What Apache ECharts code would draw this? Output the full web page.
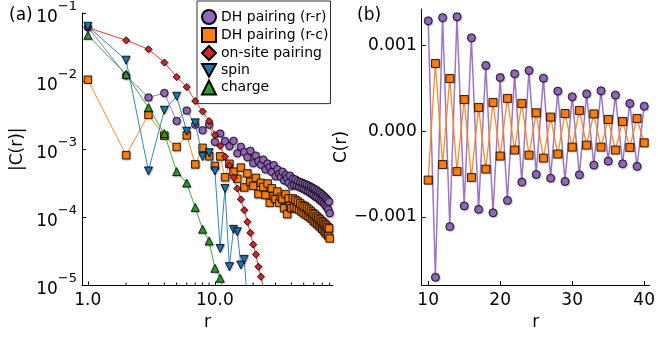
<!DOCTYPE html>
<html>
<head>
<meta charset="utf-8">
<script src="https://cdn.jsdelivr.net/npm/echarts@6/dist/echarts.min.js"></script>
<style>
  html, body { margin: 0; padding: 0; background: #fff; }
  #main { width: 658px; height: 337px; }
</style>
</head>
<body>
<div id="main"></div>
<script>
// r = 1..80 for the log-log panel, r = 10..40 for panel (b)
const rAll = Array.from({ length: 80 }, (_, i) => i + 1);
const rZoom = Array.from({ length: 31 }, (_, i) => i + 10);

// DH pairing (r-r): |C| for r=1..9, signed C for r=10..40, |C| for r=41..80
const rrHead = [0.062, 0.0121, 0.00575, 0.0067, 0.0026, 0.0037, 0.0023, 0.0019, 0.0023];
const rrSigned = [0.001283, -0.0017, 0.00132, -0.00111, 0.00133, -0.00087, 0.001085, -0.00091, 0.000764, -0.00095,
  0.000624, -0.000806, 0.000667, -0.000593, 0.000705, -0.000504, 0.000616, -0.000547, 0.000465, -0.000585,
  0.0004, -0.000508, 0.000434, -0.000395, 0.000469, -0.000349, 0.000419, -0.00038, 0.000322, -0.00041, 0.00029];
const rrTail = [3.7e-4, 3.0e-4, 3.6e-4, 2.9e-4, 3.4e-4, 2.8e-4, 3.3e-4, 2.7e-4, 3.2e-4, 2.6e-4,
  3.1e-4, 2.5e-4, 3.0e-4, 2.4e-4, 2.9e-4, 2.3e-4, 2.8e-4, 2.2e-4, 2.7e-4, 2.1e-4,
  2.6e-4, 2.0e-4, 2.5e-4, 1.95e-4, 2.4e-4, 1.85e-4, 2.3e-4, 1.75e-4, 2.2e-4, 1.7e-4,
  2.1e-4, 1.6e-4, 2.0e-4, 1.5e-4, 1.9e-4, 1.4e-4, 1.8e-4, 1.3e-4, 1.7e-4, 1.15e-4];

// DH pairing (r-c)
const rcHead = [0.0105, 0.00082, 0.0032, 0.00158, 0.00108, 0.0016, 0.0006, 0.00105, 0.00079];
const rcSigned = [-0.00057, 0.000787, -0.000388, 0.000612, -0.000469, 0.000368, -0.000539, 0.000275, -0.000442, 0.000333,
  -0.00029, 0.00038, -0.00022, 0.000322, -0.000279, 0.000213, -0.000314, 0.000163, -0.000267, 0.000205,
  -0.000186, 0.00024, -0.000163, 0.0002, -0.000186, 0.000136, -0.00022, 0.000112, -0.00019, 0.000147, -0.000136];
const rcTail = [1.9e-4, 1.4e-4, 1.8e-4, 1.35e-4, 1.7e-4, 1.3e-4, 1.6e-4, 1.22e-4, 1.5e-4, 1.15e-4,
  1.45e-4, 1.1e-4, 1.38e-4, 1.05e-4, 1.3e-4, 1.0e-4, 1.22e-4, 0.95e-4, 1.15e-4, 0.88e-4,
  1.1e-4, 0.84e-4, 1.03e-4, 0.8e-4, 0.98e-4, 0.76e-4, 0.93e-4, 0.72e-4, 0.88e-4, 0.68e-4,
  0.84e-4, 0.64e-4, 0.8e-4, 0.6e-4, 0.76e-4, 0.57e-4, 0.72e-4, 0.54e-4, 0.69e-4, 0.49e-4];

// on-site pairing, spin, charge (r starting at 1)
const onsite = [0.061, 0.0398, 0.0294, 0.0188, 0.0115, 0.0082, 0.0051, 0.0036, 0.0026, 0.00163,
  0.00112, 0.00078, 0.000585, 0.000386, 0.000266, 0.000184, 0.000128, 0.000086, 0.0000595, 0.00004,
  0.0000286, 0.0000189, 0.0000135, 0.0000096];
const spin = [0.0638, 0.0203, 0.00048, 0.00374, 0.006, 0.00184, 0.00244, 0.00078, 0.00089, 0.00048,
  0.000035, 0.000266, 0.0000189, 0.0000667, 0.0000615, 0.00002, 0.0000242, 0.000006];
const charge = [0.0471, 0.0126, 0.0041, 0.0017, 0.00047, 0.00032, 0.00014, 0.000067, 0.000045, 0.0000179,
  0.0000128, 0.0000072];

const minorTicks = [2, 3, 4, 5, 6, 7, 8, 9, 20, 30, 40, 50, 60, 70, 80];

const names = ["DH pairing (r-r)", "DH pairing (r-c)", "on-site pairing", "spin", "charge"];
const colors = ["#9467bd", "#ff7f0e", "#d62728", "#1f77b4", "#2ca02c"];
const downTri = "path://M0,0L10,0L5,9Z";

const rrAbs = [...rrHead, ...rrSigned.map(Math.abs), ...rrTail];
const rcAbs = [...rcHead, ...rcSigned.map(Math.abs), ...rcTail];

const FONT = "DejaVu Sans";
const pairs = (xs, ys) => ys.map((y, i) => [xs[i], y]);

const mkLine = (idx, data, symbol, size, grid, lw) => ({
  name: names[idx],
  type: "line",
  xAxisIndex: grid,
  yAxisIndex: grid,
  data: data,
  symbol: symbol,
  symbolSize: size,
  showAllSymbol: true,
  itemStyle: {
    color: colors[idx], borderColor: "#000", borderWidth: 0.8,
    shadowColor: "rgba(0,0,0,0.3)", shadowBlur: 1.5, shadowOffsetX: 0.8, shadowOffsetY: 0.8,
  },
  lineStyle: { color: colors[idx], width: lw, opacity: 0.9 },
  emphasis: { disabled: true },
  z: 2 + idx,
});

const axisCommon = {
  axisLine: { show: true, onZero: false, lineStyle: { color: "#000", width: 1 } },
  axisTick: { show: true, inside: true, length: 4, lineStyle: { color: "#000" } },
  splitLine: { show: false },
  axisLabel: { color: "#000", fontFamily: FONT, fontSize: 17, showMinLabel: false, showMaxLabel: false },
  nameTextStyle: { color: "#000", fontFamily: FONT, fontSize: 17 },
};

const myChart = echarts.init(document.getElementById("main"));

const option = {
  animation: false,
  backgroundColor: "#fff",
  title: [
    { text: "(a)", left: 4, top: 2, textStyle: { fontFamily: FONT, fontSize: 17, fontWeight: "normal", color: "#000" } },
    { text: "(b)", left: 352, top: 2, textStyle: { fontFamily: FONT, fontSize: 17, fontWeight: "normal", color: "#000" } },
  ],
  legend: {
    left: 197,
    top: 1,
    orient: "vertical",
    padding: [8, 2, 8, 4],
    itemWidth: 14,
    itemHeight: 14,
    itemGap: 2,
    borderColor: "#333",
    borderWidth: 1,
    backgroundColor: "#fff",
    textStyle: { fontFamily: FONT, fontSize: 14, color: "#000" },
    selectedMode: false,
    data: [
      { name: names[0], icon: "circle" },
      { name: names[1], icon: "rect" },
      { name: names[2], icon: "diamond" },
      { name: names[3], icon: downTri },
      { name: names[4], icon: "triangle" },
    ],
  },
  grid: [
    { left: 82, top: 12.7, width: 251, height: 272.8 },
    { left: 421.7, top: 9, width: 233.3, height: 276 },
  ],
  xAxis: [
    {
      ...axisCommon,
      gridIndex: 0,
      type: "log",
      logBase: 10,
      min: 0.9,
      max: 85,
      name: "r",
      nameLocation: "middle",
      nameGap: 24,
      axisLabel: { ...axisCommon.axisLabel, margin: 7, formatter: (v) => v.toFixed(1) },
    },
    {
      ...axisCommon,
      gridIndex: 1,
      type: "value",
      min: 9.1,
      max: 40.75,
      splitNumber: 3,
      name: "r",
      nameLocation: "middle",
      nameGap: 24,
      axisLabel: { ...axisCommon.axisLabel, margin: 7 },
    },
  ],
  yAxis: [
    {
      ...axisCommon,
      gridIndex: 0,
      type: "log",
      logBase: 10,
      min: 1e-5,
      max: 1e-1,
      name: "|C(r)|",
      nameLocation: "middle",
      nameGap: 56,
      axisLabel: {
        ...axisCommon.axisLabel,
        showMinLabel: true,
        showMaxLabel: true,
        margin: 5,
        formatter: (v) => "{b|10}{s|−" + Math.abs(Math.round(Math.log10(v))) + "}",
        rich: {
          b: { fontFamily: FONT, fontSize: 17, color: "#000", lineHeight: 26, verticalAlign: "bottom" },
          s: { fontFamily: FONT, fontSize: 13, color: "#000", lineHeight: 14, verticalAlign: "top" },
        },
      },
    },
    {
      ...axisCommon,
      gridIndex: 1,
      type: "value",
      min: -0.00179,
      max: 0.00142,
      splitNumber: 3,
      name: "C(r)",
      nameLocation: "middle",
      nameGap: 68,
      axisLabel: {
        ...axisCommon.axisLabel,
        margin: 5,
        formatter: (v) => (v < 0 ? "−" : "") + Math.abs(v).toFixed(3),
      },
    },
  ],
  series: [
    mkLine(0, pairs(rAll, rrAbs), "circle", 7.5, 0, 1),
    mkLine(1, pairs(rAll, rcAbs), "rect", 7.5, 0, 1),
    mkLine(2, pairs(rAll, onsite), "diamond", 7, 0, 1),
    mkLine(3, pairs(rAll, spin), downTri, 8, 0, 1),
    mkLine(4, pairs(rAll, charge), "triangle", 8, 0, 1),
    mkLine(0, pairs(rZoom, rrSigned), "circle", 8, 1, 1.5),
    mkLine(1, pairs(rZoom, rcSigned), "rect", 8, 1, 1.3),
    {
      // minor ticks of the log r axis
      type: "custom",
      xAxisIndex: 0,
      yAxisIndex: 0,
      silent: true,
      clip: false,
      z: 20,
      data: minorTicks.map((v) => [v, 1e-5]),
      renderItem: (params, api) => {
        const p = api.coord([api.value(0), api.value(1)]);
        return {
          type: "line",
          shape: { x1: p[0], y1: p[1], x2: p[0], y2: p[1] - 3 },
          style: { stroke: "#000", lineWidth: 1 },
        };
      },
    },
  ],
};

myChart.setOption(option);
</script>
</body>
</html>
